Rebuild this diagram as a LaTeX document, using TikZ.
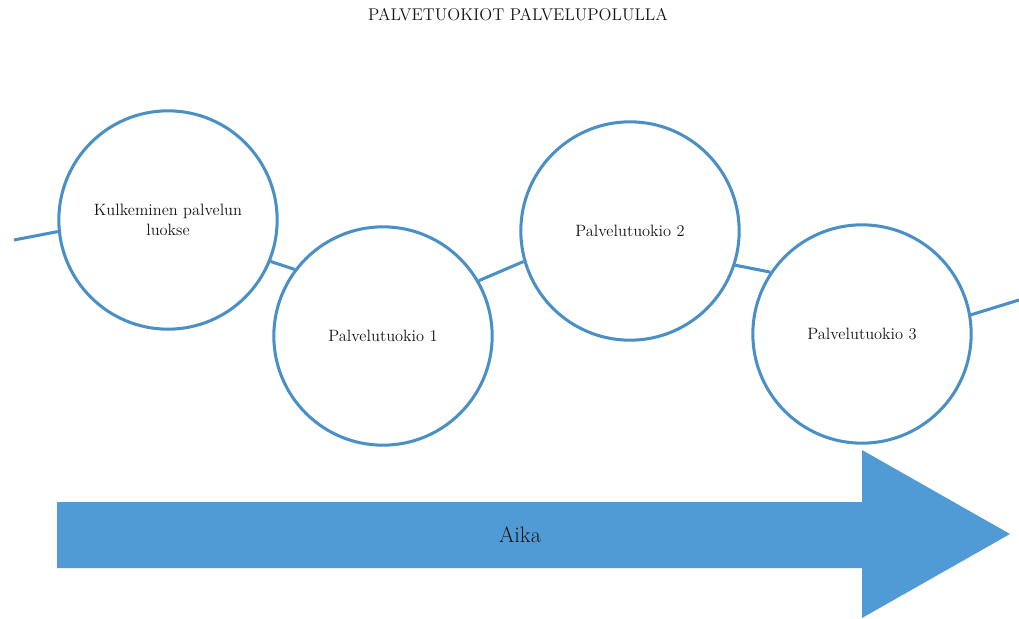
\documentclass[tikz,border=0pt]{standalone}
\usepackage{tikz}
\usetikzlibrary{calc}

\definecolor{ympyra}{RGB}{74,144,198}
\definecolor{nuoli}{RGB}{80,155,214}
\definecolor{teksti}{RGB}{20,20,20}

\tikzset{
  tuokio/.style={circle,draw=ympyra,line width=2.6pt,fill=white,minimum size=6.55cm,inner sep=0pt,
                 align=center,text=teksti,font=\fontsize{14}{17}\selectfont},
  polku/.style={draw=ympyra,line width=2.6pt}
}

\begin{document}
\begin{tikzpicture}[x=0.03cm,y=-0.03cm]
                      \useasboundingbox (0,0) rectangle (1019,618);
                      \node[text=teksti,font=\fontsize{14.5}{17}\selectfont](otsikko)at(518,15){PALVETUOKIOT PALVELUPOLULLA};
                      % polku ja tuokiot
                      \coordinate (alku) at (14,240);
                      \coordinate (loppu) at (1019,300);
                      \node[tuokio](k)at(168,220){Kulkeminen palvelun\\luokse};
                      \node[tuokio](t1)at(383,336){Palvelutuokio 1};
                      \node[tuokio](t2)at(630,231){Palvelutuokio 2};
                      \node[tuokio](t3)at(862,334){Palvelutuokio 3};
                      \draw[polku](alku)--(k.186);
                      \draw[polku](k.-22)--(t1.143);
                      \draw[polku](t1.30)--(t2.196);
                      \draw[polku](t2.-18)--(t3.146);
                      \draw[polku](t3.10)--(loppu);
                      % aika-nuoli
                      \fill[nuoli] (57,502) -- (862,502) -- (862,450) -- (1010,534) -- (862,618) -- (862,568) -- (57,568) -- cycle;
                      \node[text=teksti,font=\fontsize{19}{22}\selectfont](aika)at(520,535){Aika};
                  \end{tikzpicture}
\end{document}
